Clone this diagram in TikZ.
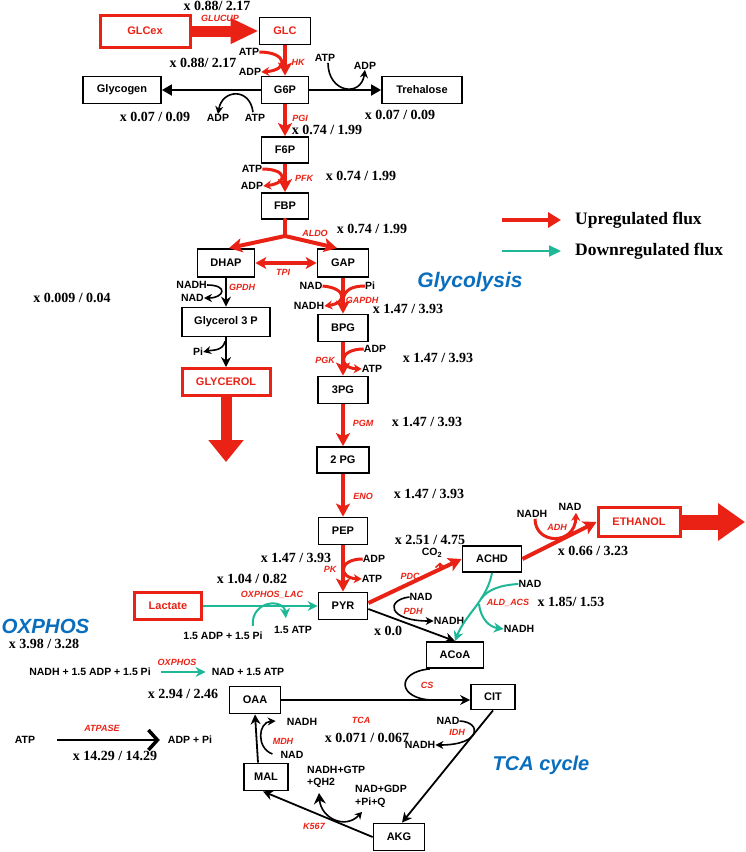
\documentclass[tikz,border=0pt]{standalone}
\usepackage{fontspec}
\setmainfont{Liberation Sans}
\newfontfamily\tms{Liberation Serif}
\usetikzlibrary{arrows.meta,calc}
\definecolor{upr}{RGB}{234,34,22}
\definecolor{dnt}{RGB}{30,184,150}
\definecolor{lblue}{RGB}{10,110,190}
\tikzset{
 box/.style={draw=black, line width=1.8pt, fill=white, font=\fontsize{11}{13}\selectfont\bfseries, inner sep=0pt},
 rbox/.style={box, draw=upr, line width=3pt, text=upr},
 upa/.style={draw=upr, line width=4pt, -{Stealth[length=13pt,width=14pt,inset=3pt]}},
 upl/.style={draw=upr, line width=4pt, line cap=round},
 upside/.style={draw=upr, line width=3pt, -{Stealth[length=8pt,width=9pt]}},
 blka/.style={draw=black, line width=1.8pt, -{Stealth[length=10pt,width=10pt]}},
 blkside/.style={draw=black, line width=1.6pt, -{Stealth[length=8pt,width=8pt]}},
 dna/.style={draw=dnt, line width=2pt, -{Stealth[length=10pt,width=10pt]}},
 num/.style={font=\tms\fontsize{14}{16}\selectfont\bfseries, inner sep=0pt},
 lb/.style={font=\fontsize{10.5}{12}\selectfont\bfseries, inner sep=0pt},
 enz/.style={text=upr, font=\fontsize{9}{10}\selectfont\bfseries\itshape, inner sep=0pt},
 region/.style={text=lblue, font=\fontsize{21}{24}\selectfont\bfseries\itshape, inner sep=0pt},
 legtxt/.style={font=\tms\fontsize{17.5}{20}\selectfont\bfseries, inner sep=0pt, anchor=west},
}
\begin{document}
\begin{tikzpicture}[x=1pt,y=-1pt]
\useasboundingbox (0,0) rectangle (745,852);

% ---------- boxes ----------
\node[rbox, minimum width=90pt, minimum height=32pt] (glcex) at (145,31) {GLCex};
\node[box, text=upr, minimum width=51pt, minimum height=27pt] (glc) at (285,31) {GLC};
\node[box, minimum width=47pt, minimum height=27pt] (g6p) at (285,90) {G6P};
\node[box, minimum width=78pt, minimum height=27pt] (glycogen) at (122,90) {Glycogen};
\node[box, minimum width=80pt, minimum height=27pt] (treh) at (422,90) {Trehalose};
\node[box, minimum width=47pt, minimum height=26pt] (f6p) at (285,150) {F6P};
\node[box, minimum width=47pt, minimum height=26pt] (fbp) at (285,206) {FBP};
\node[box, minimum width=57pt, minimum height=28pt] (dhap) at (226,263) {DHAP};
\node[box, minimum width=51pt, minimum height=28pt] (gap) at (343,263) {GAP};
\node[box, minimum width=88pt, minimum height=29pt] (g3p) at (226,322) {Glycerol 3 P};
\node[rbox, minimum width=88pt, minimum height=27pt] (glycerol) at (226,382) {GLYCEROL};
\node[box, minimum width=50pt, minimum height=27pt] (bpg) at (343,328) {BPG};
\node[box, minimum width=50pt, minimum height=27pt] (pg3) at (343,390) {3PG};
\node[box, minimum width=52pt, minimum height=26pt] (pg2) at (343,460) {2 PG};
\node[box, minimum width=49pt, minimum height=27pt] (pep) at (343,531) {PEP};
\node[box, minimum width=49pt, minimum height=27pt] (pyr) at (343,606) {PYR};
\node[box, minimum width=59pt, minimum height=26pt] (achd) at (492,559) {ACHD};
\node[rbox, minimum width=82pt, minimum height=29pt] (ethanol) at (639,522) {ETHANOL};
\node[rbox, minimum width=67pt, minimum height=27pt] (lactate) at (168,606) {Lactate};
\node[box, minimum width=57pt, minimum height=26pt] (acoa) at (455,655) {ACoA};
\node[box, minimum width=44pt, minimum height=25pt] (cit) at (493,697) {CIT};
\node[box, minimum width=51pt, minimum height=27pt] (oaa) at (255,700) {OAA};
\node[box, minimum width=44pt, minimum height=27pt] (mal) at (266,777) {MAL};
\node[box, minimum width=51pt, minimum height=27pt] (akg) at (399,837) {AKG};

% ---------- labels ----------
\node[num] at (217,5.5) {x 0.88/ 2.17};
\node[enz] at (220,18.5) {GLUCUP};
\node[lb] (atpA) at (249,52) {ATP};
\node[lb] (adpA) at (250,72) {ADP};
\node[enz] at (298,62) {HK};
\node[num] at (203,63) {x 0.88/ 2.17};

\node[lb] (adpB) at (218,118) {ADP};
\node[lb] (atpB) at (255,118) {ATP};
\node[num] at (155,117) {x 0.07 / 0.09};
\node[lb] (atpC) at (325,58) {ATP};
\node[lb] (adpC) at (365,66) {ADP};
\node[num] at (400,115) {x 0.07 / 0.09};

\node[enz] at (300,118) {PGI};
\node[num] at (327,130) {x 0.74 / 1.99};
\node[lb] (atpD) at (252,169) {ATP};
\node[lb] (adpD) at (252,186) {ADP};
\node[enz] at (304,178) {PFK};
\node[num] at (361,176) {x 0.74 / 1.99};
\node[enz] at (315,233) {ALDO};
\node[num] at (372,229) {x 0.74 / 1.99};
\node[enz] at (283,272) {TPI};

\node[lb, anchor=east] (nadhE) at (207,285) {NADH};
\node[lb, anchor=east] (nadE) at (204,298) {NAD};
\node[enz] at (242,287) {GPDH};
\node[num] at (72,298) {x 0.009 / 0.04};
\node[lb] (piF) at (198,352) {Pi};

\node[lb] (nadG) at (311,286) {NAD};
\node[lb] (nadhG) at (309,306) {NADH};
\node[lb] (piG) at (370,286) {Pi};
\node[enz] at (362,300) {GAPDH};
\node[num] at (408,309) {x 1.47 / 3.93};
\node[region] at (470,282) {Glycolysis};

\node[lb] (adpH) at (375,349) {ADP};
\node[lb] (atpH) at (372,369) {ATP};
\node[enz] at (325,360) {PGK};
\node[num] at (438,358) {x 1.47 / 3.93};
\node[enz] at (363,423) {PGM};
\node[num] at (427,422) {x 1.47 / 3.93};
\node[enz] at (363,496) {ENO};
\node[num] at (429,494) {x 1.47 / 3.93};

\node[lb] (adpI) at (374,559) {ADP};
\node[lb] (atpI) at (372,579) {ATP};
\node[enz] at (330,569) {PK};
\node[num] at (296,558) {x 1.47 / 3.93};

\node[num] at (252,579) {x 1.04 / 0.82};
\node[enz] at (272,595) {OXPHOS\_LAC};
\node[lb] (adpO) at (223,636) {1.5 ADP + 1.5 Pi};
\node[lb] (atpO) at (293,630) {1.5 ATP};

\node[enz] at (410,576) {PDC};
\node[lb] (co2) at (432,553) {CO\textsubscript{2}};
\node[num] at (430,540) {x 2.51 / 4.75};

\node[lb] (nadhJ) at (532,514) {NADH};
\node[lb] (nadJ) at (570,507) {NAD};
\node[enz] at (557,527) {ADH};
\node[num] at (593,551) {x 0.66 / 3.23};

\node[lb] (nadK) at (421,597) {NAD};
\node[lb] (nadhK) at (449,621) {NADH};
\node[enz] at (413,611) {PDH};
\node[num] at (388,631) {x 0.0};

\node[lb] (nadL) at (530,584) {NAD};
\node[lb] (nadhL) at (519,629) {NADH};
\node[enz] at (508,603) {ALD\_ACS};
\node[num] at (571,602) {x 1.85/ 1.53};

\node[region, font=\fontsize{20.5}{24}\selectfont\bfseries\itshape, anchor=west] at (1.5,626) {OXPHOS};
\node[num] at (44,644) {x 3.98 / 3.28};
\node[lb] (oxl) at (90,672) {NADH + 1.5 ADP + 1.5 Pi};
\node[lb] (oxr) at (248,672) {NAD + 1.5 ATP};
\node[enz] at (177,662) {OXPHOS};
\node[num] at (183,694) {x 2.94 / 2.46};

\node[enz] at (427,685) {CS};

\node[lb] (atpP) at (25,740) {ATP};
\node[lb] (adpP) at (190,740) {ADP + Pi};
\node[enz] at (102,728) {ATPASE};
\node[num] at (115,756) {x 14.29 / 14.29};

\node[lb] (nadhN) at (302,722) {NADH};
\node[lb] (nadN) at (292,755) {NAD};
\node[enz] at (283,741) {MDH};
\node[enz] at (361,720) {TCA};
\node[num] at (367,738) {x 0.071 / 0.067};
\node[lb] (nadM) at (448,721) {NAD};
\node[lb] (nadhM) at (420,745) {NADH};
\node[enz] at (457,732) {IDH};
\node[region, font=\fontsize{20}{24}\selectfont\bfseries\itshape] at (541,765) {TCA cycle};

\node[lb, anchor=west] (gtp) at (307,770) {NADH+GTP};
\node[lb, anchor=west] (qh2) at (307,783) {+QH2};
\node[lb, anchor=west] (gdp) at (355,789) {NAD+GDP};
\node[lb, anchor=west] (piq) at (355,803) {+Pi+Q};
\node[enz] at (314,826) {K567};

% legend
\coordinate (l1a) at (502,220); \coordinate (l1b) at (561,220);
\coordinate (l2a) at (502,251); \coordinate (l2b) at (561,251);
\draw[upr, line width=4.5pt, -{Triangle[length=13pt,width=15pt]}] (l1a) -- (l1b);
\draw[dnt, line width=2.2pt, -{Triangle[length=12pt,width=11pt]}] (l2a) -- (l2b);
\node[legtxt] at (575,220) {Upregulated flux};
\node[legtxt] at (575,251) {Downregulated flux};

% ---------- main connectors ----------
\draw[upr, line width=11pt, -{Triangle[length=28pt,width=24pt]}] (glcex) -- (glc);
\draw[upa] (glc) -- (g6p);
\draw[blka, -{Triangle[length=10pt,width=11pt]}] (g6p) -- (glycogen);
\draw[blka, -{Triangle[length=10pt,width=11pt]}] (g6p) -- (treh);
\draw[upa] (g6p) -- (f6p);
\draw[upa] (f6p) -- (fbp);
\coordinate (br) at (285,236);
\draw[upl] (fbp.south) -- (br);
\draw[upa, line cap=round] (br) -- ($(dhap.north)+(3,0)$);
\draw[upa, line cap=round] (br) -- ($(gap.north)+(-6,0)$);
\draw[upr, line width=4pt, {Stealth[length=11pt,width=12pt,inset=3pt]}-{Stealth[length=11pt,width=12pt,inset=3pt]}] (dhap) -- (gap);
\draw[blka] (dhap) -- (g3p);
\draw[blka] (g3p) -- (glycerol);
\coordinate (glyout) at (226,462);
\draw[upr, line width=11pt, -{Triangle[length=22pt,width=34pt]}] (glycerol) -- (glyout);
\draw[upa] (gap) -- (bpg);
\draw[upa] (bpg) -- (pg3);
\draw[upa] (pg3) -- (pg2);
\draw[upa] (pg2) -- (pep);
\draw[upa] (pep) -- (pyr);
\draw[upa] ($(pyr.east)+(0,-3)$) -- (achd.west);
\draw[upa] (achd.east) -- (ethanol.west);
\coordinate (ethout) at (745,522);
\draw[upr, line width=15pt, -{Triangle[length=27pt,width=36pt]}] (ethanol) -- (ethout);
\draw[dna] (lactate) -- (pyr);
\draw[blka] ($(pyr.east)+(0,3)$) -- (acoa.north);
\draw[dna] (achd.south) .. controls (487,600) and (465,615) .. (acoa.north);
\draw[blka] (oaa.east) -- (oaa.east -| cit.west);
\draw[blka] (cit.south) -- ($(akg.north)+(3,0)$);
\draw[blka] (akg.west) -- ($(mal.south)+(-3,0)$);
\draw[blka] ($(mal.north)+(-8,0)$) -- (oaa.south);
\draw[dna, shorten <=10pt, shorten >=6pt] (oxl) -- (oxr);
\draw[line width=2pt, shorten <=22pt, shorten >=8pt, -{Straight Barb[length=9pt,width=20pt,line width=3.5pt]}] (atpP) -- (adpP);

% ---------- side reactions ----------
\draw[upside] (atpA.east) .. controls +(28,0) and +(28,-2) .. (adpA.east);
\draw[blkside] ($(atpB.north)+(-2,-2)$) .. controls +(-3,-25) and +(4,-25) .. (adpB.north);
\draw[blkside] ($(atpC.south)+(3,1)$) .. controls +(0,30) and +(-4,28) .. (adpC.south);
\draw[upside] (atpD.east) .. controls +(25,0) and +(25,-3) .. (adpD.east);
\draw[blkside] (nadhE.east) .. controls +(22,0) and +(20,0) .. (nadE.east);
\draw[blkside] ($(g3p.south)+(-1,4)$) .. controls +(-2,10) and +(8,-2) .. (piF.east);
\draw[upr, line width=3pt] (piG.west) .. controls (352,286) and (344,290) .. (343,300);
\draw[upside] (nadG.east) .. controls (347,288) and (347,303) .. (nadhG.east);
\draw[upside] (adpH.west) .. controls (338,349) and (338,368) .. (atpH.west);
\draw[upside] (adpI.west) .. controls (338,559) and (338,578) .. (atpI.west);
\coordinate (co2a) at (440,570.5);
\draw[upr, line width=1.5pt, -{Straight Barb[length=4pt,width=9pt]}] (co2a) -- ++(0,-8);
\draw[upside] ($(nadhJ.south)+(3,1)$) .. controls +(0,26) and +(-1,33) .. ($(nadJ.south)+(6,2)$);
\draw[blkside] (nadK.west) .. controls (385,600) and (388,621) .. (nadhK.west);
\draw[dnt, line width=2pt] (nadL.west) .. controls (500,585) and (487,590) .. (481,599);
\draw[dna] (479,604) .. controls (481,620) and (490,627) .. (nadhL.west);
\draw[dna] ($(adpO.north east)+(-10,-6)$) .. controls (251,600) and (284,598) .. ($(atpO.north west)+(12,-8)$);
\draw[black, line width=1.6pt] ($(acoa.south)+(-25,0)$) .. controls (395,672) and (398,699) .. (432,700);
\draw[blkside] (nadM.east) .. controls (482,722) and (482,745) .. (nadhM.east);
\draw[blkside] ($(nadN.west)+(-8,-1)$) .. controls (256,748) and (258,722) .. ($(nadhN.west)+(-11,-1)$);
\coordinate (k1) at (319,793); \coordinate (k2) at (362,812);
\draw[line width=1.6pt, {Stealth[length=11pt,width=12pt]}-{Stealth[length=7pt,width=8pt]}] (k1) .. controls (321,818) and (345,830) .. (k2);
\end{tikzpicture}
\end{document}
